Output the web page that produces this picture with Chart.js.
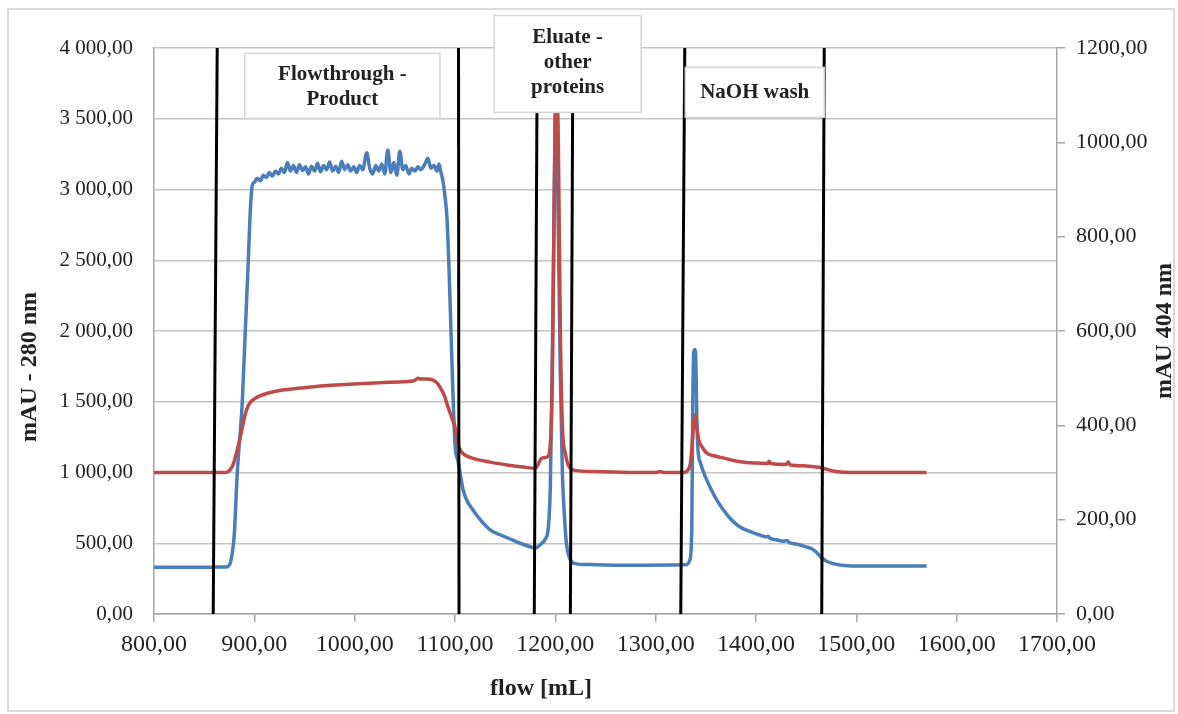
<!DOCTYPE html>
<html>
<head>
<meta charset="utf-8">
<script src="https://cdn.jsdelivr.net/npm/chart.js@4.4.1/dist/chart.umd.min.js"></script>
<style>
  body { margin: 0; background: #fff; }
  #wrap { position: relative; width: 1178px; height: 714px; }
  #frame { position: absolute; left: 7px; top: 8px; width: 1164px; height: 700px; border: 2px solid #dadada; }
  #myChart { position: absolute; left: 0; top: 0; }
</style>
</head>
<body>
<div id="wrap">
  <div id="frame"></div>
  <canvas id="myChart" width="1178" height="714"></canvas>
</div>
<script>
// 280 nm trace (left axis, mAU)
const flow280 = [800, 850, 870, 873, 876, 878, 880, 883, 888, 891, 894, 896, 898,
  900, 903, 906, 909, 912, 915, 918, 921, 924, 927, 930, 933, 936, 939, 942, 945, 948, 951, 954, 957,
  960, 963, 966, 969, 972, 975, 978, 981, 984, 987, 990, 993, 996, 999, 1002, 1005, 1008, 1012, 1015,
  1018, 1021, 1024, 1027, 1030, 1033, 1036, 1039, 1042, 1045, 1048, 1051, 1054, 1057, 1060, 1063, 1066,
  1070, 1073, 1076, 1079, 1082, 1084, 1086, 1088, 1090, 1092, 1094, 1096, 1098, 1100, 1103, 1105, 1108,
  1112, 1118, 1126, 1135, 1145, 1155, 1165, 1175, 1180, 1185, 1190, 1193, 1195, 1197, 1199, 1200, 1201,
  1203, 1205, 1207, 1209, 1211, 1214, 1218, 1230, 1260, 1290, 1320, 1328, 1331, 1334, 1336, 1337, 1338,
  1339, 1340, 1341, 1342, 1345, 1351, 1359, 1367, 1375, 1384, 1395, 1405, 1410, 1412, 1414, 1420, 1428,
  1431, 1433, 1440, 1450, 1457, 1461, 1465, 1470, 1476, 1485, 1500, 1530, 1570];
const mau280 = [330, 330, 332, 334, 360, 430, 560, 1000, 1500, 2000, 2500, 2850, 3030,
  3050, 3080, 3060, 3100, 3085, 3120, 3095, 3130, 3110, 3150, 3120, 3190, 3130, 3170, 3120, 3175, 3135, 3160, 3110, 3165,
  3130, 3185, 3125, 3170, 3140, 3195, 3130, 3165, 3120, 3200, 3140, 3175, 3130, 3160, 3120, 3170, 3140, 3260, 3150,
  3110, 3170, 3130, 3180, 3110, 3280, 3120, 3190, 3100, 3270, 3140, 3170, 3110, 3150, 3130, 3160, 3140,
  3180, 3220, 3150, 3170, 3130, 3180, 3120, 3060, 2950, 2800, 2450, 2000, 1550, 1200, 1080, 1000, 880,
  800, 734, 660, 595, 560, 530, 500, 475, 465, 490, 530, 610, 900, 1800, 3000, 3550, 3500,
  2700, 1700, 1000, 700, 500, 400, 360, 350, 345, 345, 347, 348, 350, 380, 600, 1500, 1850,
  1870, 1800, 1400, 1180, 1060, 946, 830, 740, 670, 615, 580, 555, 545, 550, 535, 525, 515,
  520, 505, 495, 475, 455, 430, 400, 375, 358, 345, 340, 340, 340];

// 404 nm trace (right axis, mAU)
const flow404 = [800, 870, 873, 876, 879, 882, 886, 891, 894, 897, 900, 905, 913, 925, 946, 970, 995,
  1020, 1045, 1058, 1061, 1063, 1066, 1072, 1078, 1082, 1085, 1089, 1093, 1097, 1100, 1103, 1106, 1110,
  1118, 1135, 1152, 1170, 1180, 1183, 1186, 1192, 1195, 1197, 1199, 1201, 1203, 1205, 1207, 1210, 1213,
  1218, 1240, 1284, 1300, 1305, 1308, 1328, 1332, 1335, 1337, 1339, 1341, 1343, 1347, 1351, 1359, 1367,
  1384, 1400, 1412, 1413, 1415, 1430, 1432, 1434, 1450, 1458, 1467, 1475, 1484, 1500, 1570];
const mau404 = [300, 300, 301, 306, 318, 340, 375, 424, 442, 451, 456, 462, 468, 474, 479, 484, 487,
  490, 492, 494, 497, 500, 498, 498, 496, 490, 481, 465, 439, 415, 396, 360, 345, 337,
  330, 322, 316, 311, 309, 318, 330, 333, 360, 500, 900, 1150, 1000, 600, 400, 340, 315,
  305, 302, 300, 300, 302, 300, 300, 305, 325, 380, 422, 395, 369, 352, 341, 335, 331,
  323, 320, 319, 324, 319, 317, 322, 316, 314, 312, 309, 304, 301, 300, 300];

// phase boundary lines, flow at the bottom (0) and top (4000) of the plot
const boundaryBottom = [859, 1104, 1179, 1215, 1325, 1465.5];
const boundaryTop = [863, 1103.5, 1182, 1217.5, 1329, 1468];

// phase labels
const phaseLabels = [['Flowthrough -', 'Product'], ['Eluate -', 'other', 'proteins'], ['NaOH wash']];

const fontFamily = "'Liberation Serif', 'Times New Roman', serif";
const textColor = '#222';

function toPoints(xs, ys){
  let pts = [];
  for(let i=0; i<xs.length; i++){
    pts.push({x: xs[i], y: ys[i]});
  }
  return pts;
}

function leftLabel(v){
  let whole = Math.round(v);
  if(whole >= 1000){
    let rest = String(whole % 1000).padStart(3, '0');
    return Math.floor(whole / 1000) + ' ' + rest + ',00';
  }
  return whole + ',00';
}

const datasets = [];
datasets.push({
  label: 'mAU - 280 nm',
  data: toPoints(flow280, mau280),
  borderColor: '#4a7ebb',
  borderWidth: 3.5,
  pointRadius: 0,
  cubicInterpolationMode: 'monotone',
  yAxisID: 'y',
  order: 2
});
datasets.push({
  label: 'mAU 404 nm',
  data: toPoints(flow404, mau404),
  borderColor: '#be4b48',
  borderWidth: 3.5,
  pointRadius: 0,
  cubicInterpolationMode: 'monotone',
  yAxisID: 'y1',
  order: 1
});
for(let i=0; i<boundaryBottom.length; i++){
  datasets.push({
    label: 'boundary ' + (i+1),
    data: [{x: boundaryBottom[i], y: 0}, {x: boundaryTop[i], y: 4000}],
    borderColor: '#000',
    borderWidth: 3,
    pointRadius: 0,
    yAxisID: 'y',
    order: 0
  });
}

// label boxes in data units (flow, left-axis mAU)
const boxes = [
  {x0: 890.5, x1: 1085, y0: 3503, y1: 3962, lineY: [75, 100]},
  {x0: 1139, x1: 1285.5, y0: 3545, y1: 4230, lineY: [38, 63, 88]},
  {x0: 1329.5, x1: 1468, y0: 3510, y1: 3863, lineY: [93]}
];

const labelPlugin = {
  id: 'labels',
  afterDatasetsDraw(chart){
    const ctx = chart.ctx;
    const xs = chart.scales.x;
    const ys = chart.scales.y;
    ctx.save();
    for(let i=0; i<boxes.length; i++){
      let b = boxes[i];
      let l = xs.getPixelForValue(b.x0);
      let r = xs.getPixelForValue(b.x1);
      let t = ys.getPixelForValue(b.y1);
      let btm = ys.getPixelForValue(b.y0);
      ctx.fillStyle = '#fff';
      ctx.fillRect(l, t, r - l, btm - t);
      ctx.strokeStyle = '#d6d6d6';
      ctx.lineWidth = 1.5;
      ctx.strokeRect(l, t, r - l, btm - t);
      ctx.fillStyle = textColor;
      ctx.font = 'bold 21px ' + fontFamily;
      ctx.textAlign = 'center';
      ctx.textBaseline = 'middle';
      for(let j=0; j<phaseLabels[i].length; j++){
        ctx.fillText(phaseLabels[i][j], (l + r) / 2, b.lineY[j]);
      }
    }
    ctx.restore();
  },
  afterDraw(chart){
    const ctx = chart.ctx;
    ctx.save();
    ctx.fillStyle = textColor;
    ctx.font = 'bold 24px ' + fontFamily;
    ctx.textAlign = 'center';
    ctx.textBaseline = 'middle';
    ctx.fillText('flow [mL]', 541, 689);
    ctx.translate(30, 367);
    ctx.rotate(-Math.PI / 2);
    ctx.fillText('mAU - 280 nm', 0, 0);
    ctx.restore();
    ctx.save();
    ctx.fillStyle = textColor;
    ctx.font = 'bold 24px ' + fontFamily;
    ctx.textAlign = 'center';
    ctx.textBaseline = 'middle';
    ctx.translate(1165, 331);
    ctx.rotate(-Math.PI / 2);
    ctx.fillText('mAU 404 nm', 0, 0);
    ctx.restore();
  }
};

const ctx = document.getElementById('myChart').getContext('2d');
const chart = new Chart(ctx, {
  type: 'line',
  data: { datasets: datasets },
  options: {
    responsive: false,
    devicePixelRatio: 1,
    animation: false,
    layout: { padding: { top: 48 } },
    plugins: { legend: { display: false }, tooltip: { enabled: false } },
    scales: {
      x: {
        type: 'linear',
        position: 'bottom',
        min: 800,
        max: 1700,
        afterFit(scale){ scale.height = 100; },
        ticks: {
          stepSize: 100,
          padding: 8,
          color: textColor,
          font: { family: fontFamily, size: 24 },
          callback: (v) => v + ',00'
        },
        grid: { drawOnChartArea: false, tickLength: 8, color: '#a6a6a6', lineWidth: 1.5 },
        border: { color: '#a6a6a6', width: 1.5 }
      },
      y: {
        position: 'left',
        min: 0,
        max: 4000,
        afterFit(scale){ scale.width = 154; },
        ticks: {
          stepSize: 500,
          padding: 21,
          color: textColor,
          font: { family: fontFamily, size: 21 },
          callback: (v) => leftLabel(v)
        },
        grid: { color: '#c4c4c4', lineWidth: 1.5, drawTicks: false },
        border: { color: '#a6a6a6', width: 1.5 }
      },
      y1: {
        position: 'right',
        min: 0,
        max: 1200,
        afterFit(scale){ scale.width = 121; },
        ticks: {
          stepSize: 200,
          padding: 11,
          color: textColor,
          font: { family: fontFamily, size: 22 },
          callback: (v) => v + ',00'
        },
        grid: { drawOnChartArea: false, tickLength: 8, color: '#a6a6a6', lineWidth: 1.5 },
        border: { color: '#a6a6a6', width: 1.5 }
      }
    }
  },
  plugins: [labelPlugin]
});
</script>
</body>
</html>
